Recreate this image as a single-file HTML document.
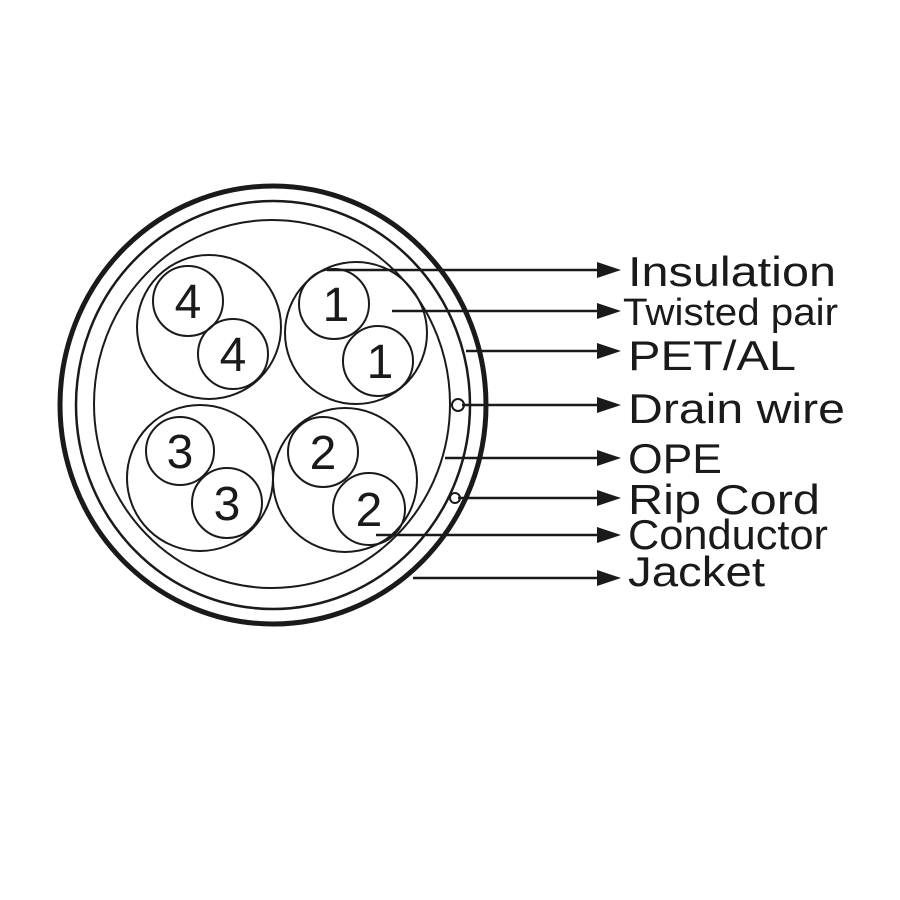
<!DOCTYPE html>
<html><head><style>html,body{margin:0;padding:0;background:#fff}svg{display:block}</style></head>
<body>
<svg width="900" height="900" viewBox="0 0 900 900" xmlns="http://www.w3.org/2000/svg">
<rect width="900" height="900" fill="#fff"/>
<g fill="none" stroke="#1a1a1a">
<ellipse cx="273" cy="405" rx="213" ry="219" stroke-width="5"/>
<ellipse cx="273" cy="405" rx="197" ry="204" stroke-width="2.5"/>
<ellipse cx="272" cy="404" rx="178" ry="184" stroke-width="2"/>
<g stroke-width="2">
<circle cx="209" cy="327" r="72"/><circle cx="188" cy="301" r="35"/><circle cx="233" cy="354" r="35"/>
<circle cx="356" cy="333" r="71"/><circle cx="334" cy="304" r="35"/><circle cx="378" cy="361" r="35"/>
<circle cx="200" cy="478" r="73"/><circle cx="180" cy="451" r="34"/><circle cx="227" cy="503" r="35"/>
<circle cx="345" cy="480" r="72"/><circle cx="323" cy="452" r="35"/><circle cx="369" cy="509" r="36"/>
<circle cx="458" cy="405" r="6"/><circle cx="455" cy="498" r="5"/>
</g>
<g stroke-width="2.5">
<line x1="327" y1="270" x2="600" y2="270"/>
<line x1="392" y1="311" x2="600" y2="311"/>
<line x1="466" y1="351" x2="600" y2="351"/>
<line x1="462" y1="405" x2="600" y2="405"/>
<line x1="445" y1="458" x2="600" y2="458"/>
<line x1="458" y1="498" x2="600" y2="498"/>
<line x1="376" y1="535" x2="600" y2="535"/>
<line x1="413" y1="578" x2="600" y2="578"/>
</g>
</g>
<g fill="#1a1a1a">
<polygon points="597,262 621,270 597,278"/>
<polygon points="597,303 621,311 597,319"/>
<polygon points="597,343 621,351 597,359"/>
<polygon points="597,397 621,405 597,413"/>
<polygon points="597,450 621,458 597,466"/>
<polygon points="597,490 621,498 597,506"/>
<polygon points="597,527 621,535 597,543"/>
<polygon points="597,570 621,578 597,586"/>
</g>
<g font-family="Liberation Sans, sans-serif" fill="#1a1a1a" font-size="48" text-anchor="middle">
<text x="188" y="318">4</text><text x="233" y="371">4</text>
<text x="336" y="321">1</text><text x="380" y="378">1</text>
<text x="180" y="468">3</text><text x="227" y="520">3</text>
<text x="323" y="469">2</text><text x="369" y="526">2</text>
</g>
<g font-family="Liberation Sans, sans-serif" fill="#1a1a1a" font-size="42">
<text x="628" y="286" textLength="208" lengthAdjust="spacingAndGlyphs">Insulation</text>
<text x="623" y="325" font-size="38" textLength="215" lengthAdjust="spacingAndGlyphs">Twisted pair</text>
<text x="628" y="370" textLength="168" lengthAdjust="spacingAndGlyphs">PET/AL</text>
<text x="628" y="423" textLength="217" lengthAdjust="spacingAndGlyphs">Drain wire</text>
<text x="628" y="473" textLength="94" lengthAdjust="spacingAndGlyphs">OPE</text>
<text x="628" y="514" textLength="192" lengthAdjust="spacingAndGlyphs">Rip Cord</text>
<text x="628" y="549" textLength="200" lengthAdjust="spacingAndGlyphs">Conductor</text>
<text x="628" y="586" textLength="137" lengthAdjust="spacingAndGlyphs">Jacket</text>
</g>
</svg>
</body></html>
